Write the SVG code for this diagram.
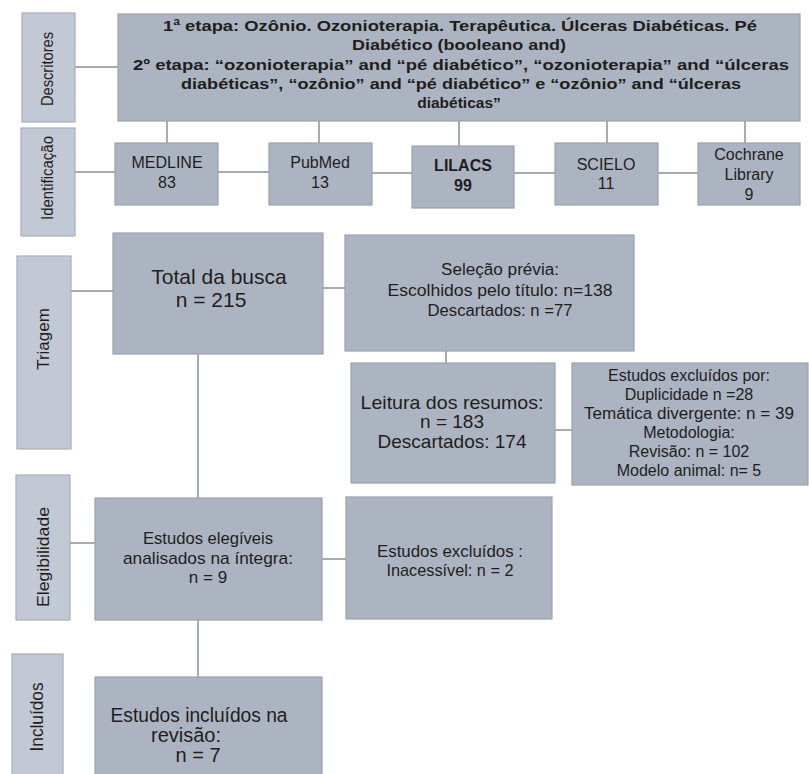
<svg xmlns="http://www.w3.org/2000/svg" width="809" height="774" viewBox="0 0 809 774">
<style>
  .box{fill:#adb4c1;stroke:#9ca2ad;stroke-width:1.2}
  .lab{fill:#c2c8d4;stroke:#a8aeb9;stroke-width:1.2}
  .t{font-family:"Liberation Sans",Arial,sans-serif;fill:#1e1e1e;text-anchor:middle}
  .b{font-weight:bold}
  .conn line{stroke:#a6aab1;stroke-width:2}
</style>
<rect width="809" height="774" fill="#ffffff"/>

<g id="connectors" class="conn">
  <line x1="75" y1="67" x2="118" y2="67"/>
  <line x1="167" y1="121" x2="167" y2="143"/>
  <line x1="319" y1="121" x2="319" y2="143"/>
  <line x1="459" y1="121" x2="459" y2="146"/>
  <line x1="607" y1="121" x2="607" y2="143"/>
  <line x1="745" y1="121" x2="745" y2="143"/>
  <line x1="75" y1="172" x2="115" y2="172"/>
  <line x1="218" y1="172" x2="269" y2="172"/>
  <line x1="372" y1="173" x2="412" y2="173"/>
  <line x1="514" y1="173" x2="555" y2="173"/>
  <line x1="658" y1="173" x2="698" y2="173"/>
  <line x1="71" y1="291" x2="113" y2="291"/>
  <line x1="323" y1="288" x2="345" y2="288"/>
  <line x1="446" y1="351" x2="446" y2="363"/>
  <line x1="555" y1="430" x2="572" y2="430"/>
  <line x1="198" y1="354" x2="198" y2="498"/>
  <line x1="70" y1="543" x2="95" y2="543"/>
  <line x1="322" y1="559" x2="346" y2="559"/>
  <line x1="198" y1="620" x2="198" y2="677"/>
</g>

<g id="label-descritores">
  <rect class="lab" x="22" y="13" width="53" height="109"/>
  <text class="t" font-size="16" transform="translate(53,69) rotate(-90)" textLength="74" lengthAdjust="spacingAndGlyphs">Descritores</text>
</g>
<g id="descritores">
  <rect class="box" x="118" y="14" width="682" height="107"/>
  <text class="t b" font-size="15.5" x="460" y="31" textLength="594" lengthAdjust="spacingAndGlyphs">1ª etapa: Ozônio. Ozonioterapia. Terapêutica. Úlceras Diabéticas. Pé</text>
  <text class="t b" font-size="15.5" x="459" y="50" textLength="214" lengthAdjust="spacingAndGlyphs">Diabético (booleano and)</text>
  <text class="t b" font-size="15.5" x="461" y="70" textLength="656" lengthAdjust="spacingAndGlyphs">2º etapa: “ozonioterapia” and “pé diabético”, “ozonioterapia” and “úlceras</text>
  <text class="t b" font-size="15.5" x="461" y="89" textLength="560" lengthAdjust="spacingAndGlyphs">diabéticas”, “ozônio” and “pé diabético” e “ozônio” and “úlceras</text>
  <text class="t b" font-size="15.5" x="459" y="108">diabéticas”</text>
</g>

<g id="label-identificacao">
  <rect class="lab" x="21" y="128" width="54" height="108"/>
  <text class="t" font-size="16" transform="translate(53,178) rotate(-90)" textLength="84" lengthAdjust="spacingAndGlyphs">Identificação</text>
</g>
<g id="medline">
  <rect class="box" x="115" y="143" width="103" height="62"/>
  <text class="t" font-size="16" x="167" y="168">MEDLINE</text>
  <text class="t" font-size="16" x="167" y="188">83</text>
</g>
<g id="pubmed">
  <rect class="box" x="269" y="143" width="103" height="62"/>
  <text class="t" font-size="16" x="320" y="168">PubMed</text>
  <text class="t" font-size="16" x="320" y="188">13</text>
</g>
<g id="lilacs">
  <rect class="box" x="412" y="146" width="102" height="62"/>
  <text class="t b" font-size="16" x="463" y="171">LILACS</text>
  <text class="t b" font-size="16" x="463" y="191">99</text>
</g>
<g id="scielo">
  <rect class="box" x="555" y="143" width="103" height="62"/>
  <text class="t" font-size="16" x="606" y="170">SCIELO</text>
  <text class="t" font-size="16" x="606" y="189">11</text>
</g>
<g id="cochrane">
  <rect class="box" x="698" y="143" width="102" height="62"/>
  <text class="t" font-size="16" x="749" y="160">Cochrane</text>
  <text class="t" font-size="16" x="749" y="180">Library</text>
  <text class="t" font-size="16" x="749" y="200">9</text>
</g>

<g id="label-triagem">
  <rect class="lab" x="17" y="256" width="54" height="193"/>
  <text class="t" font-size="17" transform="translate(49,339) rotate(-90)">Triagem</text>
</g>
<g id="total">
  <rect class="box" x="113" y="233" width="210" height="121"/>
  <text class="t" font-size="21" x="219" y="284">Total da busca</text>
  <text class="t" font-size="21" x="211" y="307">n = 215</text>
</g>
<g id="selecao">
  <rect class="box" x="345" y="235" width="289" height="116"/>
  <text class="t" font-size="16" x="500" y="275" textLength="118" lengthAdjust="spacingAndGlyphs">Seleção prévia:</text>
  <text class="t" font-size="16" x="500" y="296" textLength="225" lengthAdjust="spacingAndGlyphs">Escolhidos pelo título: n=138</text>
  <text class="t" font-size="16" x="500" y="316" textLength="145" lengthAdjust="spacingAndGlyphs">Descartados: n =77</text>
</g>
<g id="leitura">
  <rect class="box" x="351" y="363" width="204" height="120"/>
  <text class="t" font-size="19" x="452" y="409" textLength="183" lengthAdjust="spacingAndGlyphs">Leitura dos resumos:</text>
  <text class="t" font-size="19" x="452" y="428">n = 183</text>
  <text class="t" font-size="19" x="452" y="448">Descartados: 174</text>
</g>
<g id="excluidos-por">
  <rect class="box" x="572" y="363" width="236" height="122"/>
  <text class="t" font-size="16" x="689" y="381" textLength="162" lengthAdjust="spacingAndGlyphs">Estudos excluídos por:</text>
  <text class="t" font-size="16" x="689" y="400">Duplicidade n =28</text>
  <text class="t" font-size="16" x="689" y="419" textLength="210" lengthAdjust="spacingAndGlyphs">Temática divergente: n = 39</text>
  <text class="t" font-size="16" x="689" y="438">Metodologia:</text>
  <text class="t" font-size="16" x="689" y="457">Revisão: n = 102</text>
  <text class="t" font-size="16" x="689" y="476">Modelo animal: n= 5</text>
</g>

<g id="label-elegibilidade">
  <rect class="lab" x="16" y="475" width="54" height="145"/>
  <text class="t" font-size="17" transform="translate(49,557) rotate(-90)" textLength="100" lengthAdjust="spacingAndGlyphs">Elegibilidade</text>
</g>
<g id="elegiveis">
  <rect class="box" x="95" y="498" width="227" height="122"/>
  <text class="t" font-size="17" x="208" y="544" textLength="130" lengthAdjust="spacingAndGlyphs">Estudos elegíveis</text>
  <text class="t" font-size="17" x="208" y="564" textLength="170" lengthAdjust="spacingAndGlyphs">analisados na íntegra:</text>
  <text class="t" font-size="17" x="208" y="583">n = 9</text>
</g>
<g id="inacessivel">
  <rect class="box" x="346" y="497" width="206" height="122"/>
  <text class="t" font-size="17" x="450" y="557" textLength="146" lengthAdjust="spacingAndGlyphs">Estudos excluídos :</text>
  <text class="t" font-size="17" x="450" y="576" textLength="127" lengthAdjust="spacingAndGlyphs">Inacessível: n = 2</text>
</g>

<g id="label-incluidos">
  <rect class="lab" x="12" y="654" width="51" height="130"/>
  <text class="t" font-size="18" transform="translate(43,717) rotate(-90)" textLength="69" lengthAdjust="spacingAndGlyphs">Incluídos</text>
</g>
<g id="incluidos">
  <rect class="box" x="95" y="677" width="227" height="110"/>
  <text class="t" font-size="20" x="199" y="722" textLength="177" lengthAdjust="spacingAndGlyphs">Estudos incluídos na</text>
  <text class="t" font-size="20" x="186" y="742">revisão:</text>
  <text class="t" font-size="20" x="198" y="762">n = 7</text>
</g>
</svg>
